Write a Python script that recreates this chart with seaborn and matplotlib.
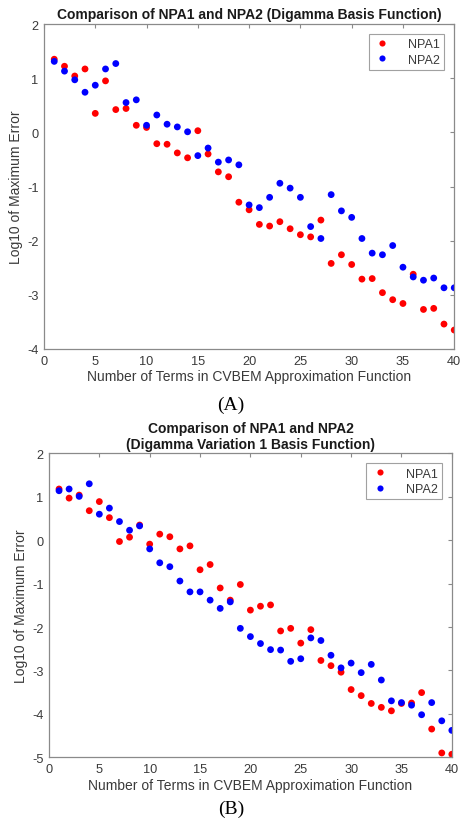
import numpy as np
import pandas as pd
import matplotlib
matplotlib.use('Agg')
import matplotlib.pyplot as plt
import seaborn as sns

# Data (log10 of maximum error per number of terms)
terms = list(range(1, 41))

npa1_a = [1.35, 1.22, 1.04, 1.17, 0.35, 0.95, 0.42, 0.44, 0.13, 0.09,
          -0.21, -0.22, -0.38, -0.47, 0.03, -0.40, -0.73, -0.82, -1.29, -1.43,
          -1.70, -1.73, -1.65, -1.78, -1.89, -1.93, -1.62, -2.42, -2.26, -2.44,
          -2.71, -2.70, -2.96, -3.09, -3.16, -2.62, -3.27, -3.25, -3.54, -3.65]
npa2_a = [1.31, 1.13, 0.97, 0.74, 0.87, 1.17, 1.27, 0.55, 0.60, 0.13,
          0.32, 0.15, 0.10, 0.01, -0.43, -0.29, -0.55, -0.51, -0.60, -1.34,
          -1.39, -1.20, -0.94, -1.03, -1.20, -1.74, -1.96, -1.15, -1.45, -1.57,
          -1.96, -2.23, -2.26, -2.09, -2.49, -2.67, -2.73, -2.69, -2.87, -2.87]

npa1_b = [1.18, 0.97, 1.04, 0.68, 0.89, 0.52, -0.03, 0.07, 0.35, -0.09,
          0.14, 0.08, -0.20, -0.13, -0.68, -0.56, -1.10, -1.38, -1.02, -1.61,
          -1.52, -1.49, -2.09, -2.03, -2.37, -2.06, -2.77, -2.89, -3.04, -3.44,
          -3.58, -3.76, -3.85, -3.93, -3.76, -3.75, -3.51, -4.35, -4.90, -4.93]
npa2_b = [1.14, 1.18, 1.01, 1.30, 0.60, 0.74, 0.43, 0.23, 0.33, -0.20,
          -0.52, -0.61, -0.94, -1.19, -1.19, -1.38, -1.57, -1.42, -2.03, -2.22,
          -2.38, -2.52, -2.53, -2.79, -2.73, -2.25, -2.31, -2.65, -2.94, -2.83,
          -3.05, -2.86, -3.22, -3.70, -3.74, -3.80, -4.02, -3.74, -4.16, -4.38]

xticks = [0, 5, 10, 15, 20, 25, 30, 35, 40]
yticks_a = [-4, -3, -2, -1, 0, 1, 2]
yticks_b = [-5, -4, -3, -2, -1, 0, 1, 2]

sns.set_style('white')
plt.rcParams['font.family'] = ['Liberation Sans', 'DejaVu Sans']
plt.rcParams['axes.unicode_minus'] = False

palette = {'NPA1': '#ff0000', 'NPA2': '#0000ff'}
axis_col = '#8a8a8a'
text_col = '#3a3a3a'


def make_df(a, b):
    return pd.DataFrame({
        'terms': terms + terms,
        'err': a + b,
        'method': ['NPA1'] * len(a) + ['NPA2'] * len(b),
    })


def style_axes(ax, yticks, title):
    ax.set_xlim(0, 40)
    ax.set_ylim(yticks[0], yticks[-1])
    ax.set_xticks(xticks)
    ax.set_yticks(yticks)
    ax.tick_params(direction='in', top=True, right=True, length=3, width=0.8,
                   colors=axis_col, labelcolor=text_col, labelsize=9.2, pad=4)
    for s in ax.spines.values():
        s.set_color(axis_col)
        s.set_linewidth(0.9)
    ax.set_xlabel('Number of Terms in CVBEM Approximation Function',
                  fontsize=10, color=text_col, labelpad=2)
    ax.set_ylabel('Log10 of Maximum Error', fontsize=10, color=text_col, labelpad=3)
    ax.set_title(title, fontsize=10, fontweight='bold', color='#1a1a1a', pad=4,
                 linespacing=1.15)
    leg = ax.legend(loc='upper right', fontsize=9, frameon=True, fancybox=False,
                    handlelength=1.5, handletextpad=1.3, borderpad=0.35,
                    labelspacing=0.25, borderaxespad=0.8, markerscale=0.9)
    leg.get_frame().set_edgecolor(axis_col)
    leg.get_frame().set_linewidth(0.8)
    for t in leg.get_texts():
        t.set_color(text_col)


fig = plt.figure(figsize=(4.62, 8.28), dpi=100)

ax1 = fig.add_axes([0.0952, 0.5773, 0.888, 0.3925])
sns.scatterplot(data=make_df(npa1_a, npa2_a), x='terms', y='err', hue='method',
                palette=palette, s=24, linewidth=0, ax=ax1)
style_axes(ax1, yticks_a, 'Comparison of NPA1 and NPA2 (Digamma Basis Function)')

ax2 = fig.add_axes([0.106, 0.0842, 0.872, 0.367])
sns.scatterplot(data=make_df(npa1_b, npa2_b), x='terms', y='err', hue='method',
                palette=palette, s=24, linewidth=0, ax=ax2)
style_axes(ax2, yticks_b,
           'Comparison of NPA1 and NPA2\n(Digamma Variation 1 Basis Function)')

fig.text(0.5, 1 - 405 / 828, '(A)', ha='center', va='center', fontsize=14,
         family='Liberation Serif', color='black')
fig.text(0.5, 1 - 809 / 828, '(B)', ha='center', va='center', fontsize=14,
         family='Liberation Serif', color='black')

fig.savefig('out.png', dpi=100)
